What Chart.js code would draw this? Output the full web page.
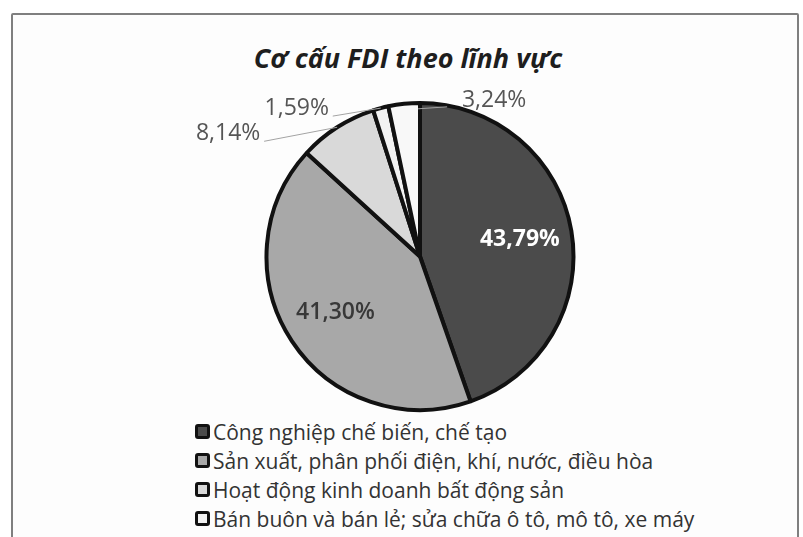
<!DOCTYPE html>
<html>
<head>
  <meta charset="utf-8">
  <title>Cơ cấu FDI theo lĩnh vực</title>
  <script src="https://cdn.jsdelivr.net/npm/chart.js"></script>
  <style>
    body { margin:0; background:#fff; overflow:hidden; font-family:'Open Sans',sans-serif; }
    #frame { position:absolute; left:11px; top:13px; width:784px; height:600px;
             border:2px solid #7f7f7f; border-radius:2px; background:#fdfdfd; }
    #title { position:absolute; left:13px; width:790px; top:42px; text-align:center;
             font:italic bold 27px/32px 'Open Sans',sans-serif; color:#1e1e1e; }
    #chart { position:absolute; left:0; top:0; }
    #legend { position:absolute; left:195px; top:417px; margin:0; padding:0; list-style:none; }
    #legend li { height:29px; display:flex; align-items:center; font-size:21px; color:#333; white-space:nowrap; }
    #legend span { width:9px; height:9px; border:3px solid #111; border-radius:3px; margin-right:3px; }
  </style>
</head>
<body>
  <div id="frame"></div>
  <div id="title">Cơ cấu FDI theo lĩnh vực</div>
  <canvas id="chart" width="803" height="414"></canvas>
  <ul id="legend"></ul>
  <script>
    const sectors = [
      'Công nghiệp chế biến, chế tạo',
      'Sản xuất, phân phối điện, khí, nước, điều hòa',
      'Hoạt động kinh doanh bất động sản',
      'Bán buôn và bán lẻ; sửa chữa ô tô, mô tô, xe máy',
      'Khác'
    ];
    const shares = [43.79, 41.30, 8.14, 1.59, 3.24];
    const fills = ['#4b4b4b', '#a8a8a8', '#d9d9d9', '#f2f2f2', '#f8f8f8'];
    // label offset (px) from slice edge for the small outside labels
    const outsideOffsets = [null, null, [-109, 6], [-84, 0], [90, -3]];

    const fmt = v => v.toFixed(2).replace('.', ',') + '%';

    const sliceLabels = {
      id: 'sliceLabels',
      afterDatasetsDraw(chart) {
        const ctx = chart.ctx;
        const meta = chart.getDatasetMeta(0);
        meta.data.forEach((arc, i) => {
          const p = arc.getProps(['x', 'y', 'startAngle', 'endAngle', 'outerRadius'], true);
          const mid = (p.startAngle + p.endAngle) / 2;
          const text = fmt(shares[i]);
          ctx.save();
          ctx.textAlign = 'center';
          ctx.textBaseline = 'middle';
          if (!outsideOffsets[i]) {
            const r = p.outerRadius * 0.66;
            ctx.font = (i === 0 ? 'bold ' : '600 ') + '23px "Open Sans"';
            ctx.fillStyle = i === 0 ? '#ffffff' : '#383838';
            ctx.fillText(text, p.x + Math.cos(mid) * r, p.y + Math.sin(mid) * r);
          } else {
            const ex = p.x + Math.cos(mid) * p.outerRadius;
            const ey = p.y + Math.sin(mid) * p.outerRadius;
            const off = outsideOffsets[i];
            const lx = ex + off[0], ly = ey + off[1];
            ctx.strokeStyle = '#a3a3a3';
            ctx.lineWidth = 1;
            ctx.beginPath();
            ctx.moveTo(lx + (off[0] < 0 ? 36 : -47), ly + (off[0] < 0 ? 8 : 6));
            ctx.lineTo(ex + (off[0] < 0 ? 0 : 14), ey + (off[0] < 0 ? 0 : 5));
            ctx.stroke();
            ctx.font = '23px "Open Sans"';
            ctx.fillStyle = '#555555';
            ctx.fillText(text, lx, ly);
          }
          ctx.restore();
        });
      }
    };

    const htmlLegend = {
      id: 'htmlLegend',
      afterUpdate(chart) {
        const ul = document.getElementById('legend');
        ul.innerHTML = '';
        const ds = chart.data.datasets[0];
        chart.data.labels.forEach((lab, i) => {
          const li = document.createElement('li');
          const box = document.createElement('span');
          box.style.background = ds.backgroundColor[i];
          li.appendChild(box);
          li.appendChild(document.createTextNode(lab));
          ul.appendChild(li);
        });
      }
    };

    new Chart(document.getElementById('chart').getContext('2d'), {
      type: 'pie',
      data: {
        labels: sectors,
        datasets: [{ data: shares, backgroundColor: fills, borderColor: '#111111', borderWidth: 4 }]
      },
      options: {
        responsive: false,
        animation: false,
        layout: { padding: { left: 37, right: 0, top: 101, bottom: 2 } },
        plugins: {
          legend: { display: false },
          tooltip: { enabled: false },
          title: { display: false }
        }
      },
      plugins: [sliceLabels, htmlLegend]
    });
  </script>
</body>
</html>
